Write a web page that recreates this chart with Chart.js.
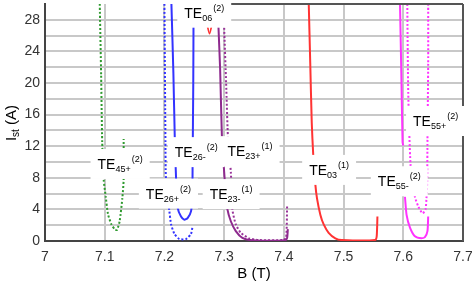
<!DOCTYPE html>
<html>
<head>
<meta charset="utf-8">
<script src="https://cdn.jsdelivr.net/npm/chart.js@4.4.1/dist/chart.umd.min.js"></script>
<style>
  html, body { margin: 0; padding: 0; background: #fff; }
  #wrap { width: 472px; height: 281px; position: relative; }
</style>
</head>
<body>
<div id="wrap"><canvas id="myChart"></canvas></div>
<script>
// B (T) / Ist (A) pairs, one pair of arrays per curve
const te45pB = [7.0917, 7.094, 7.0958, 7.0983, 7.1017, 7.1055, 7.1112, 7.1167, 7.1205, 7.125, 7.1295, 7.1317, 7.1317];
const te45pI = [30, 21, 12.5, 7.75, 5.6, 3.4, 2.1, 1.5, 1.4, 2.5, 5.4, 7.75, 12.9];

const te26dotB = [7.2, 7.2017, 7.2025, 7.2083, 7.2112, 7.2167, 7.225, 7.2362, 7.2445, 7.2472];
const te26dotI = [30, 12.5, 7.9, 3.75, 2.1, 0.9, 0.25, 0.25, 0.9, 1.9];

const te26solB = [7.2117, 7.215, 7.2175, 7.2195, 7.2222, 7.2278, 7.2333, 7.2388, 7.2445, 7.2467, 7.2472, 7.2483, 7.2488];
const te26solI = [30, 21.25, 12.5, 7.9, 4.2, 3.1, 2.7, 2.9, 3.75, 5.6, 10, 20, 30];

const te06B = [7.2655, 7.2755, 7.2855];
const te06I = [30, 26.25, 30];

const te23solB = [7.2892, 7.2905, 7.2933, 7.2962, 7.3, 7.3025, 7.3055, 7.3112, 7.3195, 7.3305, 7.3472, 7.4028, 7.4055, 7.4067];
const te23solI = [30, 27.1, 21.7, 13.4, 8.75, 6.25, 4, 2.5, 1.25, 0.4, 0.1, 0.1, 0.4, 1.5];

const te23dotB = [7.2992, 7.3, 7.3033, 7.3067, 7.3112, 7.3138, 7.3195, 7.3278, 7.3417, 7.3583, 7.3983, 7.4038, 7.4055];
const te23dotI = [30, 27.1, 20, 12.5, 8.75, 4, 2.1, 1.04, 0.34, 0.12, 0.12, 0.4, 4.6];

const te03B = [7.4417, 7.4442, 7.4467, 7.4492, 7.4528, 7.4555, 7.4612, 7.4667, 7.475, 7.4862, 7.4972, 7.5528, 7.5555, 7.5567];
const te03I = [30, 22.5, 15, 10.9, 7.1, 5.4, 3.3, 2.1, 1.04, 0.34, 0.12, 0.12, 0.6, 3.1];

const te55solB = [7.5945, 7.5967, 7.5988, 7.6, null, 7.6028, 7.6055, 7.6112, 7.6195, 7.6305, 7.6362, 7.6405, 7.6417];
const te55solI = [30, 21.25, 12.5, 12.1, null, 5.6, 3.3, 1.7, 0.6, 0.34, 0.5, 1.25, 3.1];

const te55dotB = [7.6067, 7.6083, 7.6122, 7.6195, 7.625, 7.6322, 7.6372, 7.6388, 7.64, 7.6405, 7.6417, 7.6417];
const te55dotI = [30, 18.75, 9.6, 5.6, 4.4, 3.5, 4.0, 5.4, 7.5, 12.9, 22.5, 30];

const xTicks = [7, 7.1, 7.2, 7.3, 7.4, 7.5, 7.6, 7.7];
const yLabelTicks = [0, 4, 8, 12, 16, 20, 24, 28];

// mode labels: name parts and where they sit (B, I)
const modeLabels = [
  { sub: '06', sup: '(2)', b: 7.2667, i: 28.9 },
  { sub: '45+', sup: '(2)', b: 7.1258, i: 9.75 },
  { sub: '26+', sup: '(2)', b: 7.2067, i: 6.0 },
  { sub: '26-', sup: '(2)', b: 7.2533, i: 11.25 },
  { sub: '23+', sup: '(1)', b: 7.3433, i: 11.375 },
  { sub: '23-', sup: '(1)', b: 7.3117, i: 5.94 },
  { sub: '03', sup: '(1)', b: 7.4758, i: 9.0 },
  { sub: '55-', sup: '(2)', b: 7.5933, i: 7.56 },
  { sub: '55+', sup: '(2)', b: 7.6542, i: 15.19 }
];

function pts(bs, is) {
  return bs.map((b, k) => ({ x: b, y: is[k] }));
}

function curve(bs, is, color, dotted) {
  return {
    data: pts(bs, is),
    borderColor: color,
    borderWidth: 2,
    borderDash: dotted ? [2, 2] : [],
    showLine: true,
    pointRadius: 0,
    tension: 0.2,
    spanGaps: false,
    fill: false
  };
}

const FONT = 'Liberation Sans, Arial, sans-serif';

const extras = {
  id: 'extras',
  afterDatasetsDraw(chart) {
    const { ctx, chartArea, scales } = chart;
    const x = scales.x, y = scales.y;
    ctx.save();
    // right and (partial) top frame
    ctx.strokeStyle = '#555';
    ctx.lineWidth = 2;
    ctx.beginPath();
    ctx.moveTo(x.getPixelForValue(7.307), chartArea.top);
    ctx.lineTo(chartArea.right, chartArea.top);
    ctx.moveTo(chartArea.right, chartArea.top);
    ctx.lineTo(chartArea.right, chartArea.bottom);
    ctx.stroke();

    ctx.textAlign = 'left';
    ctx.textBaseline = 'alphabetic';
    modeLabels.forEach(l => {
      const cx = x.getPixelForValue(l.b);
      const cy = y.getPixelForValue(l.i);
      ctx.font = '14px ' + FONT;
      const w1 = ctx.measureText('TE').width;
      ctx.font = '9px ' + FONT;
      const w2 = ctx.measureText(l.sub).width;
      const w3 = ctx.measureText(l.sup).width;
      const w = w1 + w2 + w3 + 1;
      ctx.fillStyle = '#fff';
      ctx.fillRect(cx - w / 2 - 7, cy - 15, w + 14, 30);
      ctx.fillStyle = '#000';
      let tx = cx - w / 2;
      const base = cy + 5;
      ctx.font = '14px ' + FONT;
      ctx.fillText('TE', tx, base);
      tx += w1;
      ctx.font = '9px ' + FONT;
      ctx.fillText(l.sub, tx, base + 3);
      tx += w2 + 1;
      ctx.fillText(l.sup, tx, base - 7);
    });

    // axis titles
    ctx.fillStyle = '#000';
    ctx.font = '15px ' + FONT;
    ctx.textAlign = 'center';
    ctx.fillText('B (T)', (chartArea.left + chartArea.right) / 2, 278);

    ctx.translate(16, 123);
    ctx.rotate(-Math.PI / 2);
    ctx.textAlign = 'left';
    ctx.font = '15px ' + FONT;
    const wi = ctx.measureText('I').width;
    ctx.font = '10px ' + FONT;
    const ws = ctx.measureText('st').width;
    ctx.font = '15px ' + FONT;
    const wa = ctx.measureText(' (A)').width;
    let ox = -(wi + ws + wa) / 2;
    ctx.fillText('I', ox, 0);
    ox += wi;
    ctx.font = '10px ' + FONT;
    ctx.fillText('st', ox, 3);
    ox += ws;
    ctx.font = '15px ' + FONT;
    ctx.fillText(' (A)', ox, 0);
    ctx.restore();
  }
};

const ctx = document.getElementById('myChart').getContext('2d');
const myChart = new Chart(ctx, {
  type: 'scatter',
  data: {
    datasets: [
      curve(te45pB, te45pI, '#2f9a2f', true),
      curve(te26dotB, te26dotI, '#3333ff', true),
      curve(te26solB, te26solI, '#3333ff', false),
      curve(te06B, te06I, '#ff3333', false),
      curve(te23solB, te23solI, '#8e2a8e', false),
      curve(te23dotB, te23dotI, '#993399', true),
      curve(te03B, te03I, '#ff3333', false),
      curve(te55solB, te55solI, '#ff33ff', false),
      curve(te55dotB, te55dotI, '#ff33ff', true)
    ]
  },
  options: {
    responsive: true,
    maintainAspectRatio: false,
    animation: false,
    layout: { padding: { left: 0, right: 9, top: 4, bottom: 0 } },
    plugins: {
      legend: { display: false },
      tooltip: { enabled: false }
    },
    scales: {
      x: {
        type: 'linear',
        min: 7,
        max: 7.7,
        afterBuildTicks(s) { s.ticks = xTicks.map(v => ({ value: v })); },
        afterFit(s) { s.height = 40; s.paddingLeft = 0; s.paddingRight = 0; },
        ticks: {
          font: { size: 14, family: FONT },
          color: '#333',
          padding: 8,
          maxRotation: 0,
          autoSkip: false,
          callback: v => String(Math.round(v * 10) / 10)
        },
        grid: {
          drawTicks: false,
          lineWidth: 2,
          color: c => (c.tick && (c.tick.value === 7.7 || c.tick.value === 7)) ? 'rgba(0,0,0,0)' : '#c8c8c8'
        },
        border: { color: '#444', width: 2 }
      },
      y: {
        min: 0,
        max: 30,
        afterBuildTicks(s) {
          const t = [];
          for (let v = 0; v <= 30; v += 2) t.push({ value: v });
          s.ticks = t;
        },
        afterFit(s) { s.width = 45; s.paddingTop = 0; s.paddingBottom = 0; },
        ticks: {
          font: { size: 14, family: FONT },
          color: '#333',
          padding: 5,
          autoSkip: false,
          callback: v => yLabelTicks.includes(v) ? String(v) : ''
        },
        grid: {
          drawTicks: false,
          lineWidth: 2,
          color: c => (c.tick && (c.tick.value === 30 || c.tick.value === 0)) ? 'rgba(0,0,0,0)' : '#c8c8c8'
        },
        border: { color: '#444', width: 2 }
      }
    }
  },
  plugins: [extras]
});
</script>
</body>
</html>
